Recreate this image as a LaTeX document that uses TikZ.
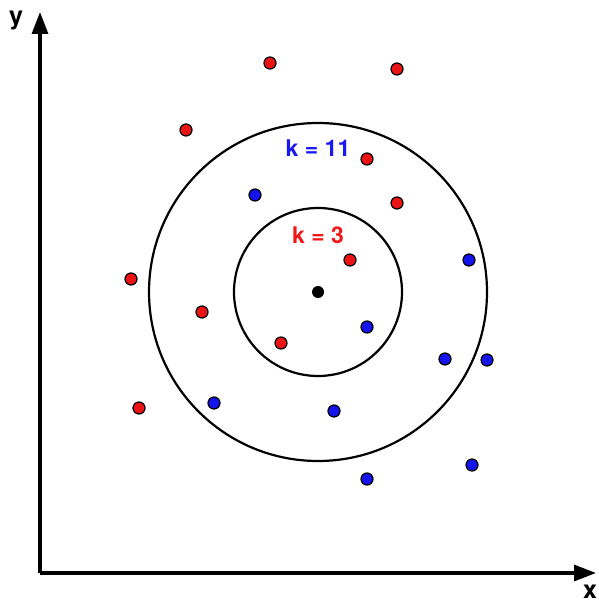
\documentclass[tikz,border=0pt]{standalone}
\usepackage{fontspec}
\setmainfont{TeX Gyre Heros}
\usetikzlibrary{arrows.meta}
\definecolor{dotred}{RGB}{235,20,20}
\definecolor{dotblue}{RGB}{20,20,235}
\definecolor{lblblue}{RGB}{25,25,240}
\definecolor{lblred}{RGB}{240,25,25}
\tikzset{
  reddot/.style={circle,draw=black,line width=0.6pt,fill=dotred,inner sep=0pt,minimum size=6pt},
  bluedot/.style={circle,draw=black,line width=0.6pt,fill=dotblue,inner sep=0pt,minimum size=6pt},
  centerdot/.style={circle,fill=black,inner sep=0pt,minimum size=6pt},
  ring/.style={draw=black,line width=1.1pt},
  axis/.style={line width=1.6pt,-{Triangle[length=11pt,width=8pt]}},
  klabel/.style={font=\bfseries\fontsize{11.5}{12}\selectfont},
  axlabel/.style={font=\bfseries\fontsize{12.5}{13}\selectfont}
}
\begin{document}
\begin{tikzpicture}[x=0.5pt,y=-0.5pt]
\useasboundingbox (0,0) rectangle (598,603);
\coordinate (O) at (40,573);
\coordinate (xend) at (596,573);
\coordinate (yend) at (40,12);
\draw[axis] (O) -- (xend);
\draw[axis] (O) -- (yend);
\node[axlabel] (xl) at (590,592) {x};
\node[axlabel] (yl) at (16,20) {y};
\node[centerdot] (c) at (318,292) {};
\draw[ring] (c.center) circle[radius=84];
\draw[ring] (c.center) circle[radius=169];
\node[klabel,text=lblblue] (k11) at (318,148) {k = 11};
\node[klabel,text=lblred] (k3) at (318,235) {k = 3};
% red points
\node[reddot] (r1) at (270,63) {};
\node[reddot] (r2) at (397,69) {};
\node[reddot] (r3) at (186,130) {};
\node[reddot] (r4) at (367,159) {};
\node[reddot] (r5) at (397,203) {};
\node[reddot] (r6) at (350,260) {};
\node[reddot] (r7) at (131,279) {};
\node[reddot] (r8) at (202,312) {};
\node[reddot] (r9) at (281,343) {};
\node[reddot] (r10) at (139,408) {};
% blue points
\node[bluedot] (b1) at (255,195) {};
\node[bluedot] (b2) at (469,260) {};
\node[bluedot] (b3) at (367,327) {};
\node[bluedot] (b4) at (445,359) {};
\node[bluedot] (b5) at (487,360) {};
\node[bluedot] (b6) at (214,403) {};
\node[bluedot] (b7) at (334,411) {};
\node[bluedot] (b8) at (472,465) {};
\node[bluedot] (b9) at (367,479) {};
\end{tikzpicture}
\end{document}
